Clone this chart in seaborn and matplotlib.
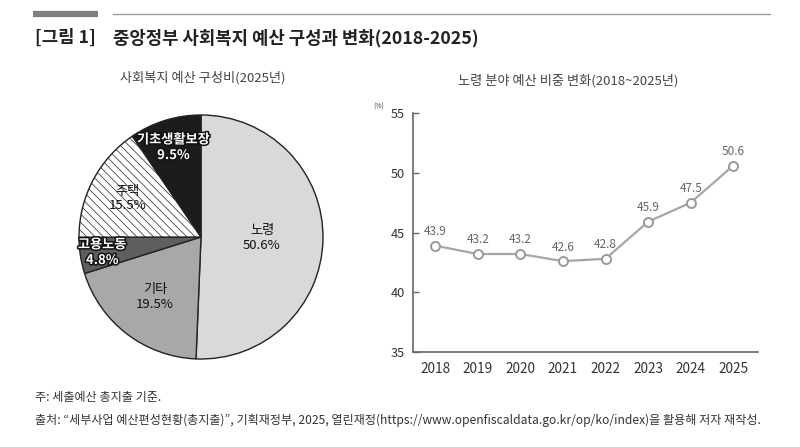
import numpy as np
import matplotlib
matplotlib.use("Agg")
import matplotlib.pyplot as plt
import matplotlib.patheffects as pe
import seaborn as sns
import pandas as pd

sns.set_theme(style="white")
plt.rcParams['font.family'] = ['Noto Sans CJK KR', 'DejaVu Sans']
plt.rcParams['hatch.color'] = '#6a6a6a'
plt.rcParams['hatch.linewidth'] = 0.5

# ---- data ----
pie_labels = ['노령', '기타', '고용노동', '주택', '기초생활보장']
pie_values = [50.6, 19.5, 4.8, 15.5, 9.5]
pie_colors = ['#d9d9d9', '#a8a8a8', '#5e5e5e', '#ffffff', '#1c1c1c']
pie_hatch = ['', '', '', '\\\\\\\\', '']
pie_label_dist = [0.5, 0.62, 0.82, 0.68, 0.77]
pie_outline = [False, False, True, False, True]

years = ['2018', '2019', '2020', '2021', '2022', '2023', '2024', '2025']
old_age_share = [43.9, 43.2, 43.2, 42.6, 42.8, 45.9, 47.5, 50.6]
y_ticks = [35, 40, 45, 50, 55]

title_tag = '[그림 1]'
title_text = '중앙정부 사회복지 예산 구성과 변화(2018-2025)'
left_sub = '사회복지 예산 구성비(2025년)'
right_sub = '노령 분야 예산 비중 변화(2018~2025년)'
note1 = '주: 세출예산 총지출 기준.'
note2 = ('출처: “세부사업 예산편성현황(총지출)”, 기획재정부, 2025, 열린재정'
         '(https://www.openfiscaldata.go.kr/op/ko/index)을 활용해 저자 재작성.')

W, H = 800, 447
fig = plt.figure(figsize=(W / 100, H / 100), dpi=100)
fig.patch.set_facecolor('white')

def fx(px):
    return px / W

def fy(py):
    return 1 - py / H

# header decorations
fig.add_artist(plt.Line2D([fx(33), fx(98)], [fy(14), fy(14)], color='#7f7f7f', lw=4.5, solid_capstyle='butt'))
fig.add_artist(plt.Line2D([fx(113), fx(770)], [fy(14), fy(14)], color='#9a9a9a', lw=1.0))
fig.text(fx(35), fy(38), title_tag, fontsize=12.8, fontweight='bold', color='#222222', va='center', ha='left')
fig.text(fx(113), fy(38), title_text, fontsize=12.8, fontweight='bold', color='#222222', va='center', ha='left')

# ---- pie ----
cx, cy, r = 201, 237, 122
ax1 = fig.add_axes([fx(cx - r), fy(cy + r), 2 * r / W, 2 * r / H])
wedges, _ = ax1.pie(pie_values, colors=pie_colors, startangle=90, counterclock=False,
                    wedgeprops=dict(edgecolor='#222222', linewidth=1.0))
for w, h in zip(wedges, pie_hatch):
    if h:
        w.set_hatch(h)
ax1.set_xlim(-1, 1)
ax1.set_ylim(-1, 1)
ax1.set_aspect('equal')
ax1.axis('off')

total = sum(pie_values)
start = 90.0
for lab, val, d, outl in zip(pie_labels, pie_values, pie_label_dist, pie_outline):
    span = 360 * val / total
    mid = np.deg2rad(start - span / 2)
    start -= span
    x, y = d * np.cos(mid), d * np.sin(mid)
    if outl:
        t = ax1.text(x, y, f'{lab}\n{val:.1f}%', ha='center', va='center', fontsize=9.5,
                     color='white', linespacing=1.15, fontweight='bold')
        t.set_path_effects([pe.withStroke(linewidth=2.2, foreground='#111111')])
    else:
        ax1.text(x, y, f'{lab}\n{val:.1f}%', ha='center', va='center', fontsize=9.5,
                 color='#111111', linespacing=1.15)

fig.text(fx(203), fy(78), left_sub, fontsize=9.5, color='#444444', ha='center', va='center')

# ---- line ----
L, R, T, B = 413, 758, 113, 352
ax2 = fig.add_axes([fx(L), fy(B), (R - L) / W, (B - T) / H])
df = pd.DataFrame({'year': years, 'share': old_age_share})
df['pos'] = np.arange(len(years))
sns.lineplot(data=df, x='pos', y='share', ax=ax2, color='#a6a6a6', linewidth=1.6,
             marker='o', markersize=6.5, markerfacecolor='white', markeredgecolor='#9a9a9a',
             markeredgewidth=1.4)
for xp, v in zip(df['pos'], df['share']):
    ax2.annotate(f'{v:.1f}', (xp, v), textcoords='offset points', xytext=(0, 5.5),
                 ha='center', va='bottom', fontsize=8.5, color='#666666')
ax2.set_xlim(-0.52, 7.58)
ax2.set_ylim(35, 55)
ax2.set_xticks(df['pos'])
ax2.set_xticklabels(years)
ax2.set_yticks(y_ticks)
ax2.set_xlabel('')
ax2.set_ylabel('')
for s in ['top', 'right']:
    ax2.spines[s].set_visible(False)
for s in ['left', 'bottom']:
    ax2.spines[s].set_color('#666666')
    ax2.spines[s].set_linewidth(1.2)
ax2.tick_params(axis='y', direction='in', length=4, width=1, color='#666666',
                labelsize=9.2, labelcolor='#333333', pad=6, left=True)
ax2.tick_params(axis='x', length=0, labelsize=9.8, labelcolor='#333333', pad=7)
ax2.grid(False)
ax2.set_facecolor('white')
fig.text(fx(379), fy(107), '(%)', fontsize=5, color='#444444', ha='center', va='center')
fig.text(fx(568), fy(81), right_sub, fontsize=9.5, color='#444444', ha='center', va='center')

# ---- notes ----
fig.text(fx(35), fy(397), note1, fontsize=8.7, color='#333333', ha='left', va='center')
fig.text(fx(35), fy(420), note2, fontsize=8.7, color='#333333', ha='left', va='center')

fig.savefig('out.png', dpi=100, facecolor='white')
